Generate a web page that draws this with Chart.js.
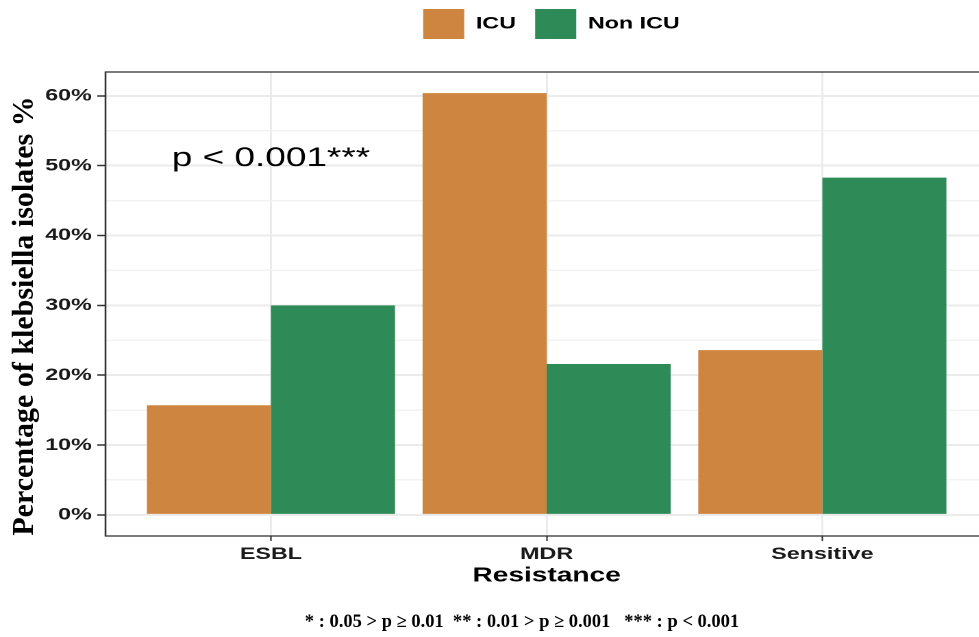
<!DOCTYPE html>
<html>
<head>
<meta charset="utf-8">
<script src="https://cdn.jsdelivr.net/npm/chart.js@4.4.1/dist/chart.umd.min.js"></script>
<style>
  html, body { margin: 0; padding: 0; background: #fff; overflow: hidden; }
  /* the source picture is stretched sideways, so the chart is drawn narrow and widened */
  #wrap { width: 730px; height: 637px; transform: scaleX(1.37); transform-origin: 0 0; }
</style>
</head>
<body>
<div id="wrap"><canvas id="chart"></canvas></div>
<script>
// data
const categories = ['ESBL', 'MDR', 'Sensitive'];
const seriesNames = ['ICU', 'Non ICU'];
const icuValues = [15.7, 60.4, 23.6];
const nonIcuValues = [30.0, 21.6, 48.3];
const yMajorTicks = [0, 10, 20, 30, 40, 50, 60];
const yMinorTicks = [5, 15, 25, 35, 45, 55];

const xTitle = 'Resistance';
const yTitle = 'Percentage of klebsiella isolates %';
const pText = 'p < 0.001***';
const footnote = '* : 0.05 > p \u2265 0.01  ** : 0.01 > p \u2265 0.001   *** : p < 0.001';

const STRETCH = 1.37;
const SANS = 'Arial, "Liberation Sans", sans-serif';
const SERIF = '"Times New Roman", "Liberation Serif", serif';

Chart.defaults.font.family = SANS;
Chart.defaults.color = '#1a1a1a';

const toPoints = vals => vals.map((v, i) => ({ x: i + 1, y: v }));
const isMajor = c => c.tick && c.tick.value % 10 === 0;

// legend: fixed height, moved to where ggplot put it
const legendPlace = {
  id: 'legendPlace',
  beforeInit(chart) {
    const fit = chart.legend.fit;
    chart.legend.fit = function () {
      fit.bind(chart.legend)();
      this.height = 72;
    };
  },
  afterLayout(chart) {
    chart.legend.left += 42;
    chart.legend.right += 42;
    chart.legend.top -= 5;
  }
};

// panel border, p-value note, y title and footnote
const extras = {
  id: 'extras',
  afterDraw(chart) {
    const { ctx, chartArea } = chart;
    const x = chart.scales.x, y = chart.scales.y;
    ctx.save();
    ctx.strokeStyle = '#333';
    ctx.lineWidth = 1.3;
    ctx.strokeRect(chartArea.left, chartArea.top, chartArea.right - chartArea.left, chartArea.bottom - chartArea.top);

    ctx.fillStyle = '#000';
    ctx.font = '27px ' + SANS;
    ctx.textAlign = 'center';
    ctx.textBaseline = 'middle';
    ctx.fillText(pText, x.getPixelForValue(1), y.getPixelForValue(51));
    ctx.restore();

    // these two were added on top of the stretched plot, so undo the stretch
    ctx.save();
    ctx.translate(25 / STRETCH, 316);
    ctx.scale(1 / STRETCH, 1);
    ctx.rotate(-Math.PI / 2);
    ctx.fillStyle = '#000';
    ctx.font = 'bold 30px ' + SERIF;
    ctx.textAlign = 'center';
    ctx.textBaseline = 'middle';
    ctx.fillText(yTitle, 0, 0);
    ctx.restore();

    ctx.save();
    ctx.translate(522 / STRETCH, 622);
    ctx.scale(1 / STRETCH, 1);
    ctx.fillStyle = '#000';
    ctx.font = 'bold 18.5px ' + SERIF;
    ctx.textAlign = 'center';
    ctx.textBaseline = 'middle';
    ctx.fillText(footnote, 0, 0);
    ctx.restore();
  }
};

new Chart(document.getElementById('chart'), {
  type: 'bar',
  data: {
    datasets: [
      { label: seriesNames[0], data: toPoints(icuValues), backgroundColor: '#CD853F', borderWidth: 0 },
      { label: seriesNames[1], data: toPoints(nonIcuValues), backgroundColor: '#2E8B57', borderWidth: 0 }
    ]
  },
  options: {
    responsive: true,
    maintainAspectRatio: false,
    animation: false,
    devicePixelRatio: 2,
    layout: { padding: { left: 0, right: 9, top: 0, bottom: 36 } },
    datasets: { bar: { categoryPercentage: 0.9, barPercentage: 1.0 } },
    plugins: {
      tooltip: { enabled: false },
      legend: {
        position: 'top',
        labels: {
          boxWidth: 30,
          boxHeight: 30,
          padding: 14,
          color: '#000',
          font: { size: 17, weight: 'bold' }
        }
      }
    },
    scales: {
      x: {
        type: 'linear',
        min: 0.4,
        max: 3.6,
        offset: false,
        afterBuildTicks: s => { s.ticks = categories.map((c, i) => ({ value: i + 1 })); },
        afterFit: s => { s.height = 65; },
        grid: { offset: false, color: '#EBEBEB', lineWidth: 1.5, tickColor: '#333', tickLength: 5, tickWidth: 1.1 },
        border: { display: false },
        ticks: {
          autoSkip: false,
          maxRotation: 0,
          padding: 3,
          color: '#1a1a1a',
          font: { size: 17, weight: 'bold' },
          callback: v => categories[v - 1]
        },
        title: {
          display: true,
          text: xTitle,
          color: '#000',
          font: { size: 20.5, weight: 'bold' },
          padding: { top: 0, bottom: 13 }
        }
      },
      y: {
        min: -3.02,
        max: 63.42,
        afterBuildTicks: s => {
          s.ticks = yMajorTicks.concat(yMinorTicks).sort((a, b) => a - b).map(v => ({ value: v }));
        },
        afterFit: s => { s.width = 77; },
        grid: {
          color: c => isMajor(c) ? '#EBEBEB' : '#F2F2F2',
          lineWidth: c => isMajor(c) ? 2 : 1.5,
          tickColor: c => isMajor(c) ? '#333' : 'rgba(0,0,0,0)',
          tickLength: 6,
          tickWidth: 1.5
        },
        border: { display: false },
        ticks: {
          autoSkip: false,
          padding: 4,
          color: '#1a1a1a',
          font: { size: 17, weight: 'bold' },
          callback: v => (v % 10 === 0 ? v + '%' : '')
        },
        title: { display: false }
      }
    }
  },
  plugins: [legendPlace, extras]
});
</script>
</body>
</html>
